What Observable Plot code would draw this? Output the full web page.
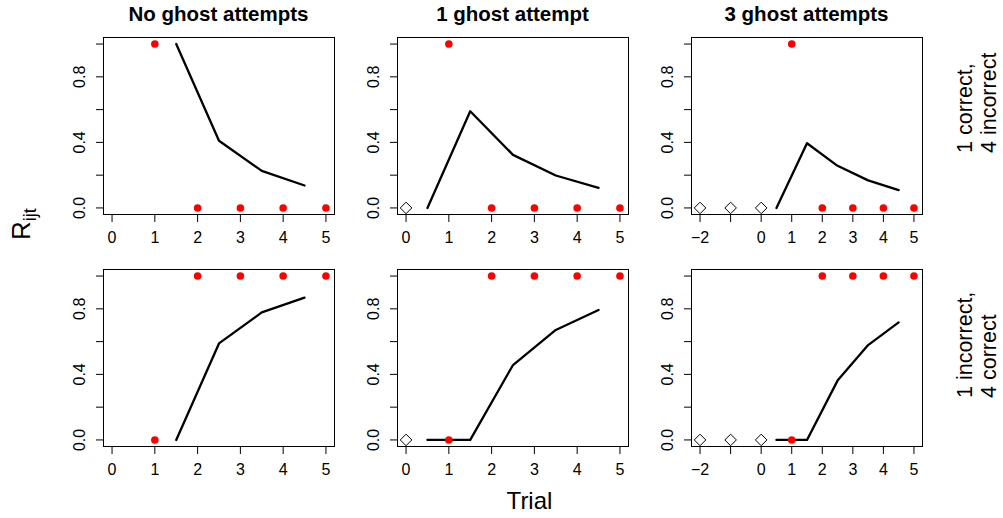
<!DOCTYPE html>
<html>
<head>
<meta charset="utf-8">
<script src="https://cdn.jsdelivr.net/npm/d3@7"></script>
<script src="https://cdn.jsdelivr.net/npm/@observablehq/plot@0.6"></script>
<style>
  body { margin: 0; background: #fff; }
  #wrap { position: relative; width: 1003px; height: 518px; background: #fff; overflow: hidden; }
  #wrap > svg, #wrap > figure { position: absolute; margin: 0; }
</style>
</head>
<body>
<div id="wrap"></div>
<script>
// ---- data ----
const colTitles = ["No ghost attempts", "1 ghost attempt", "3 ghost attempts"];
const rowLabels = [["1 correct,", "4 incorrect"], ["1 incorrect,", "4 correct"]];
const xLabel = "Trial";

const trials = [1, 2, 3, 4, 5];
const obsRow1 = [1, 0, 0, 0, 0];   // 1 correct, 4 incorrect
const obsRow2 = [0, 1, 1, 1, 1];   // 1 incorrect, 4 correct

const ghostX0 = [];
const ghostY0 = [];
const ghostX1 = [0];
const ghostY1 = [0];
const ghostX3 = [-2, -1, 0];
const ghostY3 = [0, 0, 0];

const lineX0 = [1.5, 2.5, 3.5, 4.5];
const lineXg = [0.5, 1.5, 2.5, 3.5, 4.5];

const rRow1Ghost0 = [1.0, 0.41, 0.226, 0.137];
const rRow1Ghost1 = [0, 0.59, 0.324, 0.198, 0.123];
const rRow1Ghost3 = [0, 0.395, 0.257, 0.168, 0.109];
const rRow2Ghost0 = [0, 0.589, 0.778, 0.868];
const rRow2Ghost1 = [0, 0, 0.457, 0.671, 0.793];
const rRow2Ghost3 = [0, 0, 0.362, 0.579, 0.717];

const xTicksA = [0, 1, 2, 3, 4, 5];
const xTicksB = [-2, -1, 0, 1, 2, 3, 4, 5];
const xTickLabelsA = ["0", "1", "2", "3", "4", "5"];
const xTickLabelsB = ["\u22122", "", "0", "1", "2", "3", "4", "5"];
const yTicks = [0, 0.2, 0.4, 0.6, 0.8, 1.0];
const yTickLabels = ["0.0", "", "0.4", "", "0.8", ""];

// ---- layout ----
const FONT = "'Liberation Sans', Arial, Helvetica, sans-serif";
const colLeft = [103, 397, 691];
const rowTop = [37, 269];
const boxW = 231, boxH = 177;
const ML = 50, MR = 10, MT = 10, MB = 40;

const panels = [
  {r: 0, c: 0, xd: [-0.2, 5.2], xt: xTicksA, xl: xTickLabelsA, lx: lineX0, ly: rRow1Ghost0, gx: ghostX0, gy: ghostY0, obs: obsRow1},
  {r: 0, c: 1, xd: [-0.2, 5.2], xt: xTicksA, xl: xTickLabelsA, lx: lineXg, ly: rRow1Ghost1, gx: ghostX1, gy: ghostY1, obs: obsRow1},
  {r: 0, c: 2, xd: [-2.28, 5.28], xt: xTicksB, xl: xTickLabelsB, lx: lineXg, ly: rRow1Ghost3, gx: ghostX3, gy: ghostY3, obs: obsRow1},
  {r: 1, c: 0, xd: [-0.2, 5.2], xt: xTicksA, xl: xTickLabelsA, lx: lineX0, ly: rRow2Ghost0, gx: ghostX0, gy: ghostY0, obs: obsRow2},
  {r: 1, c: 1, xd: [-0.2, 5.2], xt: xTicksA, xl: xTickLabelsA, lx: lineXg, ly: rRow2Ghost1, gx: ghostX1, gy: ghostY1, obs: obsRow2},
  {r: 1, c: 2, xd: [-2.28, 5.28], xt: xTicksB, xl: xTickLabelsB, lx: lineXg, ly: rRow2Ghost3, gx: ghostX3, gy: ghostY3, obs: obsRow2}
];

const wrap = document.getElementById("wrap");

for (const p of panels) {
  const chart = Plot.plot({
    width: ML + boxW + MR,
    height: MT + boxH + MB,
    marginLeft: ML, marginRight: MR, marginTop: MT, marginBottom: MB,
    style: {fontFamily: FONT, fontSize: "16px", background: "transparent", color: "black", overflow: "visible"},
    x: {domain: p.xd},
    y: {domain: [-0.04, 1.04]},
    marks: [
      Plot.axisX(p.xt, {anchor: "bottom", tickSize: 8, tickPadding: 9, label: null,
        tickFormat: (d) => p.xl[p.xt.indexOf(d)]}),
      Plot.axisY(yTicks, {anchor: "left", tickSize: 7, tickPadding: 11.5, tickRotate: -90, label: null,
        tickFormat: (d) => yTickLabels[yTicks.indexOf(d)]}),
      Plot.frame({stroke: "black", strokeWidth: 1}),
      Plot.line(p.ly, {x: p.lx, y: p.ly, stroke: "black", strokeWidth: 2.3}),
      Plot.dot(p.gx, {x: p.gx, y: p.gy, symbol: "diamond2", r: 5.2, fill: "white", stroke: "black", strokeWidth: 1}),
      Plot.dot(p.obs, {x: trials, y: p.obs, fill: "#ff0000", stroke: "none", r: 3.8})
    ]
  });
  chart.style.left = (colLeft[p.c] - ML) + "px";
  chart.style.top = (rowTop[p.r] - MT) + "px";
  wrap.appendChild(chart);
}

// ---- overlay text: titles, strip labels, axis titles ----
const ov = d3.select(wrap).append("svg")
  .attr("width", 1003).attr("height", 518)
  .style("left", "0px").style("top", "0px")
  .style("pointer-events", "none")
  .attr("font-family", FONT);

colTitles.forEach((t, i) => {
  ov.append("text")
    .attr("x", colLeft[i] + boxW / 2).attr("y", 21)
    .attr("text-anchor", "middle")
    .attr("font-weight", "bold").attr("font-size", 20.5)
    .text(t);
});

const rowStart = [153, 398];
rowLabels.forEach((lines, i) => {
  lines.forEach((ln, j) => {
    const bx = j === 0 ? 972 : 996;
    ov.append("text")
      .attr("transform", `translate(${bx},${rowStart[i]}) rotate(-90)`)
      .attr("text-anchor", "start")
      .attr("font-size", 21.5)
      .text(ln);
  });
});

ov.append("text")
  .attr("x", 529.5).attr("y", 509)
  .attr("text-anchor", "middle")
  .attr("font-size", 24)
  .text(xLabel);

const rl = ov.append("text")
  .attr("transform", "translate(30,240) rotate(-90)")
  .attr("text-anchor", "start")
  .attr("font-size", 26);
rl.append("tspan").text("R");
rl.append("tspan").attr("font-size", 18).attr("dy", 6).text("ijt");
</script>
</body>
</html>
